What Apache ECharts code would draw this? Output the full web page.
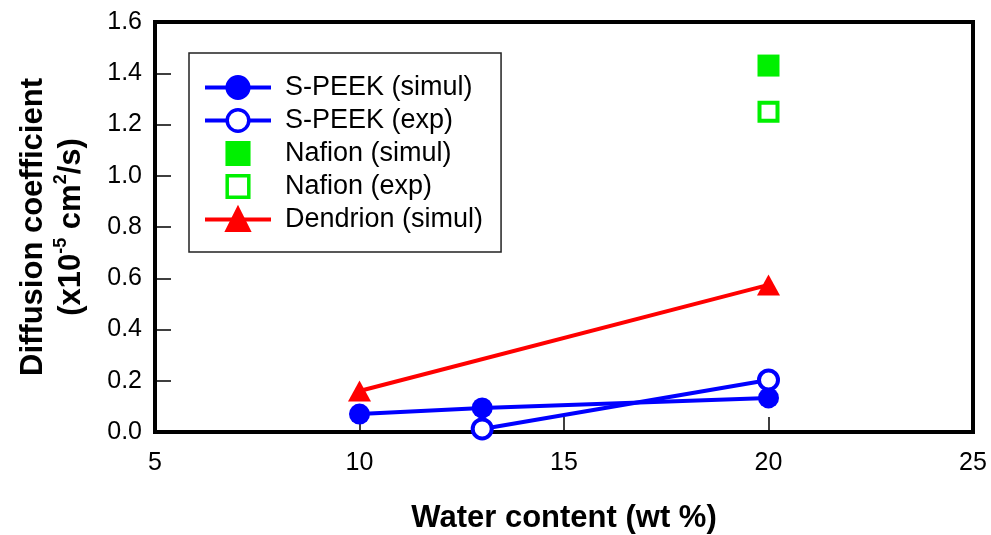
<!DOCTYPE html>
<html>
<head>
<meta charset="utf-8">
<script src="https://cdn.jsdelivr.net/npm/echarts@6/dist/echarts.min.js"></script>
<style>html,body{margin:0;padding:0;background:#fff}#c{width:991px;height:535px}</style>
</head>
<body>
<div id="c"></div>
<script>
const speekSimulX = [10, 13, 20];
const speekSimulY = [0.07, 0.094, 0.133];
const speekExpX = [13, 20];
const speekExpY = [0.012, 0.203];
const nafionSimulX = [20];
const nafionSimulY = [1.43];
const nafionExpX = [20];
const nafionExpY = [1.25];
const dendrionX = [10, 20];
const dendrionY = [0.16, 0.574];
const seriesNames = ['S-PEEK (simul)', 'S-PEEK (exp)', 'Nafion (simul)', 'Nafion (exp)', 'Dendrion (simul)'];

const BLUE = '#0000ff', GREEN = '#00f000', RED = '#ff0000';
const pairs = (xs, ys) => xs.map((x, i) => [x, ys[i]]);
const FONT = '"Liberation Sans", Arial, Helvetica, sans-serif';
const chart = echarts.init(document.getElementById('c'), null, {renderer: 'canvas'});
chart.setOption({
  animation: false,
  backgroundColor: '#fff',
  grid: {left: 155, top: 22, right: 18, bottom: 103, containLabel: false, outerBoundsMode: 'none',
    show: true, borderColor: '#000', borderWidth: 4, backgroundColor: 'transparent'},
  xAxis: {
    type: 'value', min: 5, max: 25, interval: 5,
    axisLine: {show: true, lineStyle: {color: '#000', width: 4}},
    axisTick: {show: true, inside: true, length: 15, lineStyle: {color: '#000', width: 1.5}},
    axisLabel: {fontFamily: FONT, fontSize: 25, color: '#000', margin: 19},
    splitLine: {show: false},
    name: 'Water content (wt %)', nameLocation: 'middle', nameGap: 71,
    nameTextStyle: {fontFamily: FONT, fontSize: 31, fontWeight: 'bold', color: '#000'}
  },
  yAxis: {
    type: 'value', min: 0, max: 1.6, interval: 0.2,
    axisLine: {show: true, lineStyle: {color: '#000', width: 4}},
    axisTick: {show: true, inside: true, length: 16, lineStyle: {color: '#000', width: 1.5}},
    axisLabel: {fontFamily: FONT, fontSize: 25, color: '#000', margin: 13, formatter: v => v.toFixed(1)},
    splitLine: {show: false},
    name: 'Diffusion coefficient\n(x10{sup|-5} cm{sup|2}/s)', nameLocation: 'middle', nameGap: 65, nameRotate: 90,
    nameTextStyle: {fontFamily: FONT, fontSize: 31, fontWeight: 'bold', color: '#000', lineHeight: 38,
      rich: {sup: {fontFamily: FONT, fontSize: 18, fontWeight: 'bold', color: '#000', verticalAlign: 'top', lineHeight: 20, padding: [0, 0, 16, 0]}}}
  },
  legend: {
    orient: 'vertical', left: 189, top: 53, padding: [21, 18, 19, 14],
    borderColor: '#222', borderWidth: 1.5, backgroundColor: '#fff',
    itemWidth: 66, itemHeight: 27, itemGap: 6,
    lineStyle: {width: 4},
    itemStyle: {borderWidth: 3.5},
    textStyle: {fontFamily: FONT, fontSize: 27, color: '#000', lineHeight: 27, padding: [0, 0, 0, 9]},
    data: [
      {name: seriesNames[0]},
      {name: seriesNames[1]},
      {name: seriesNames[2], lineStyle: {width: 0, opacity: 0}},
      {name: seriesNames[3], lineStyle: {width: 0, opacity: 0}},
      {name: seriesNames[4]}
    ]
  },
  series: [
    {name: seriesNames[0], type: 'line', data: pairs(speekSimulX, speekSimulY), symbol: 'circle', symbolSize: 21,
      lineStyle: {color: BLUE, width: 4}, itemStyle: {color: BLUE, borderColor: BLUE, borderWidth: 0}, z: 3},
    {name: seriesNames[1], type: 'line', data: pairs(speekExpX, speekExpY), symbol: 'circle', symbolSize: 19,
      lineStyle: {color: BLUE, width: 4}, itemStyle: {color: '#fff', borderColor: BLUE, borderWidth: 4}, z: 4},
    {name: seriesNames[2], type: 'line', data: pairs(nafionSimulX, nafionSimulY), symbol: 'rect', symbolSize: 22,
      lineStyle: {color: GREEN, width: 0}, itemStyle: {color: GREEN, borderColor: GREEN, borderWidth: 0}},
    {name: seriesNames[3], type: 'line', data: pairs(nafionExpX, nafionExpY), symbol: 'rect', symbolSize: 18,
      lineStyle: {color: GREEN, width: 0}, itemStyle: {color: '#fff', borderColor: GREEN, borderWidth: 4}},
    {name: seriesNames[4], type: 'line', data: pairs(dendrionX, dendrionY), symbol: 'triangle', symbolSize: [23, 21],
      lineStyle: {color: RED, width: 4}, itemStyle: {color: RED, borderColor: RED, borderWidth: 0}, z: 2}
  ]
});
</script>
</body>
</html>
